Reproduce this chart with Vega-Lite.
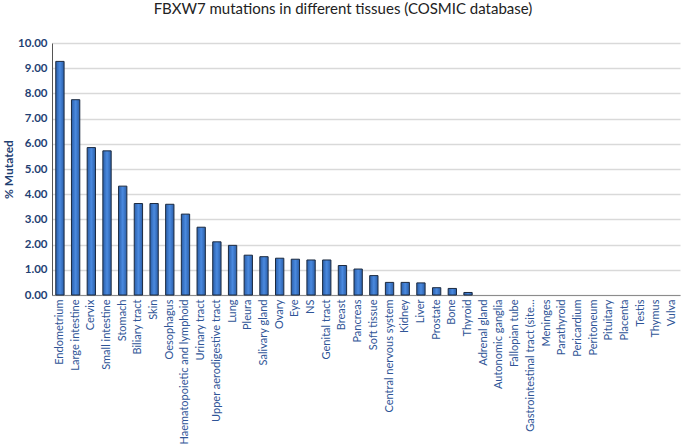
{
  "$schema": "https://vega.github.io/schema/vega-lite/v6.json",
  "width": 628,
  "height": 252,
  "autosize": "none",
  "padding": {"left": 52, "top": 43, "right": 5, "bottom": 153},
  "background": "white",
  "title": {
    "text": "FBXW7 mutations in different tissues (COSMIC database)",
    "font": "Lato",
    "fontSize": 15,
    "fontWeight": "normal",
    "color": "#222222",
    "anchor": "middle",
    "dx": -23,
    "offset": 20
  },
  "data": {
    "values": [
      {"tissue": "Endometrium", "pct": 9.27},
      {"tissue": "Large intestine", "pct": 7.75},
      {"tissue": "Cervix", "pct": 5.85},
      {"tissue": "Small intestine", "pct": 5.72},
      {"tissue": "Stomach", "pct": 4.32},
      {"tissue": "Biliary tract", "pct": 3.63},
      {"tissue": "Skin", "pct": 3.63},
      {"tissue": "Oesophagus", "pct": 3.6},
      {"tissue": "Haematopoietic and lymphoid", "pct": 3.21},
      {"tissue": "Urinary tract", "pct": 2.69},
      {"tissue": "Upper aerodigestive tract", "pct": 2.11},
      {"tissue": "Lung", "pct": 1.97},
      {"tissue": "Pleura", "pct": 1.58},
      {"tissue": "Salivary gland", "pct": 1.52},
      {"tissue": "Ovary", "pct": 1.46},
      {"tissue": "Eye", "pct": 1.42},
      {"tissue": "NS", "pct": 1.39},
      {"tissue": "Genital tract", "pct": 1.39},
      {"tissue": "Breast", "pct": 1.17},
      {"tissue": "Pancreas", "pct": 1.03},
      {"tissue": "Soft tissue", "pct": 0.77},
      {"tissue": "Central nervous system", "pct": 0.5},
      {"tissue": "Kidney", "pct": 0.5},
      {"tissue": "Liver", "pct": 0.48},
      {"tissue": "Prostate", "pct": 0.29},
      {"tissue": "Bone", "pct": 0.26},
      {"tissue": "Thyroid", "pct": 0.1},
      {"tissue": "Adrenal gland", "pct": 0},
      {"tissue": "Autonomic ganglia", "pct": 0},
      {"tissue": "Fallopian tube", "pct": 0},
      {"tissue": "Gastrointestinal tract (site...", "pct": 0},
      {"tissue": "Meninges", "pct": 0},
      {"tissue": "Parathyroid", "pct": 0},
      {"tissue": "Pericardium", "pct": 0},
      {"tissue": "Peritoneum", "pct": 0},
      {"tissue": "Pituitary", "pct": 0},
      {"tissue": "Placenta", "pct": 0},
      {"tissue": "Testis", "pct": 0},
      {"tissue": "Thymus", "pct": 0},
      {"tissue": "Vulva", "pct": 0}
    ]
  },
  "mark": {
    "type": "bar",
    "strokeWidth": 1,
    "color": {
      "gradient": "linear",
      "x1": 0, "y1": 0, "x2": 1, "y2": 0,
      "stops": [
        {"offset": 0, "color": "#2a5ea8"},
        {"offset": 0.5, "color": "#4a8ae0"},
        {"offset": 1, "color": "#2a5ea8"}
      ]
    }
  },
  "encoding": {
    "x": {
      "field": "tissue",
      "type": "nominal",
      "sort": null,
      "scale": {"paddingInner": 0.47, "paddingOuter": 0.24},
      "axis": {
        "title": null,
        "labelAngle": -90,
        "labelFont": "Lato",
        "labelFontSize": 11,
        "labelColor": "#2f5597",
        "labelPadding": 4,
        "ticks": false,
        "domainColor": "#8c8c8c",
        "labelLimit": 200
      }
    },
    "y": {
      "field": "pct",
      "type": "quantitative",
      "scale": {"domain": [0, 10]},
      "axis": {
        "title": "% Mutated",
        "titleFont": "Lato",
        "titleFontSize": 12,
        "titleFontWeight": "bold",
        "titleColor": "#1f3f73",
        "titlePadding": 2,
        "format": ".2f",
        "values": [0,1,2,3,4,5,6,7,8,9,10],
        "labelOverlap": false,
        "labelFont": "Lato",
        "labelFontSize": 11.5,
        "labelColor": "#1f3f73",
        "labelFontWeight": "bold",
        "labelPadding": 5,
        "ticks": false,
        "domainColor": "#555555",
        "gridColor": "#d9d9d9",
        "gridWidth": 1.5
      }
    },
    "stroke": {
      "condition": {"test": "datum.pct > 0", "value": "#1c2a3f"},
      "value": null
    }
  },
  "config": {"view": {"stroke": null}}
}
